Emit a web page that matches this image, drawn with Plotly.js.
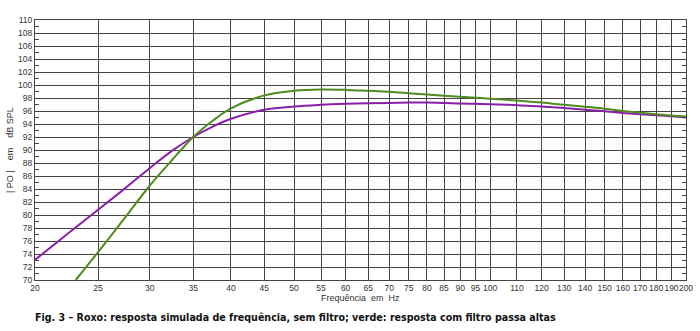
<!DOCTYPE html>
<html><head><meta charset="utf-8">
<script src="https://cdn.plot.ly/plotly-3.0.1.min.js"></script>
<style>html,body{margin:0;padding:0;background:#fff}#c{width:700px;height:331px}</style>
</head><body><div id="c"></div>
<script>
const freqPurple = [20,22.5,25,27.5,30,32.5,35,37.5,40,45,50,55,60,65,70,75,80,85,90,95,100,110,120,130,140,150,160,170,180,190,200];
const purple = [73.1,77.2,80.8,84.1,87.2,89.9,92.0,93.6,94.8,96.2,96.7,96.95,97.1,97.2,97.25,97.3,97.3,97.25,97.15,97.1,97.05,96.9,96.7,96.45,96.2,95.95,95.7,95.5,95.35,95.2,95.0];
const freqGreen = [23.1,25,27.5,30,32.5,35,37.5,40,45,50,55,60,65,70,75,80,85,90,95,100,110,120,130,140,150,160,170,180,190,200];
const green = [70.0,74.3,79.6,84.5,88.5,92.0,94.5,96.4,98.4,99.1,99.3,99.25,99.1,98.95,98.75,98.55,98.35,98.2,98.05,97.9,97.6,97.3,96.95,96.65,96.35,96.0,95.75,95.5,95.3,95.15];
const xTicks = [20,25,30,35,40,45,50,55,60,65,70,75,80,85,90,95,100,110,120,130,140,150,160,170,180,190,200];
const yTicks = [70,72,74,76,78,80,82,84,86,88,90,92,94,96,98,100,102,104,106,108,110];

const traces = [
  {x: freqPurple, y: purple, mode:'lines', line:{color:'#8b1fa8', width:2, shape:'spline'}, hoverinfo:'skip'},
  {x: freqGreen, y: green, mode:'lines', line:{color:'#4e8c1e', width:2, shape:'spline'}, hoverinfo:'skip'}
];
const nb = s => s.replace(/ /g,'\u00a0');
const layout = {
  width:700, height:331,
  margin:{l:35, r:14, t:20, b:51},
  paper_bgcolor:'#fff', plot_bgcolor:'#fff',
  showlegend:false,
  font:{family:'Liberation Sans, Arial, sans-serif', size:9, color:'#333'},
  xaxis:{type:'log', range:[Math.log10(20), Math.log10(200)], tickvals:xTicks, ticktext:xTicks.map(String),
    tickangle:0, automargin:false,
    showgrid:true, gridcolor:'#444', gridwidth:1, zeroline:false, showline:true, linecolor:'#444', linewidth:1, mirror:true,
    ticks:'', tickfont:{size:8.5, color:'#333'}},
  yaxis:{range:[70,110], tickvals:yTicks, ticktext:yTicks.map(String), automargin:false,
    showgrid:true, gridcolor:'#444', gridwidth:1, zeroline:false, showline:true, linecolor:'#444', linewidth:1, mirror:'allticks',
    ticks:'inside', ticklen:4, tickcolor:'#444',
    minor:{dtick:1, tick0:70, ticks:'inside', ticklen:4, tickcolor:'#444', showgrid:false},
    tickfont:{size:8.5, color:'#333'}},
  annotations:[
    {xref:'paper', yref:'paper', x:0.5, y:-(298-280)/260, text:nb('Frequência  em  Hz'), showarrow:false, xanchor:'center', yanchor:'middle', font:{size:9, color:'#333'}},
    {xref:'paper', yref:'paper', x:(10-35)/651, y:0.5, text:nb('| PO |    em    dB SPL'), textangle:-90, showarrow:false, xanchor:'center', yanchor:'middle', font:{size:9, color:'#333'}},
    {xref:'paper', yref:'paper', x:(33-35)/651, y:-(317-280)/260, text:'<b>Fig. 3 – Roxo: resposta simulada de frequência, sem filtro; verde: resposta com filtro passa altas</b>', showarrow:false, xanchor:'left', yanchor:'middle', font:{family:'DejaVu Sans Condensed, Liberation Sans Narrow, sans-serif', size:10.6, color:'#111'}}
  ]
};
Plotly.newPlot('c', traces, layout, {staticPlot:true, displayModeBar:false});
</script></body></html>
